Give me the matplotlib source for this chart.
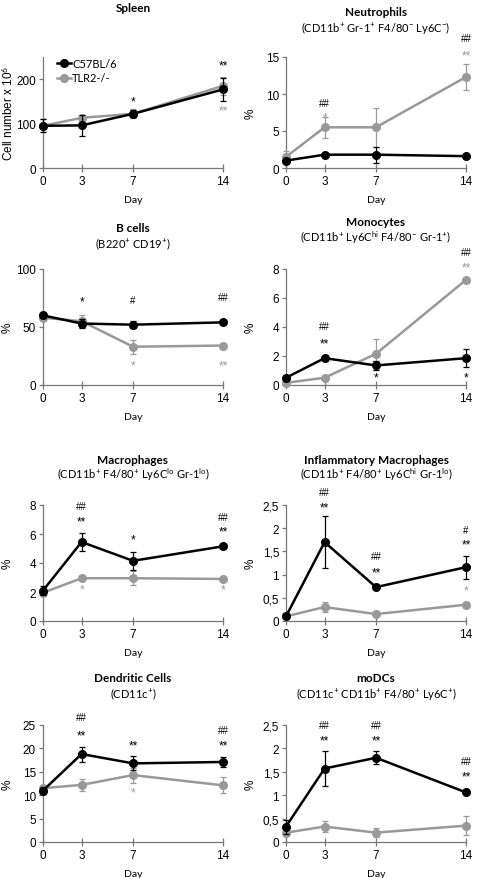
import numpy as np
import matplotlib
matplotlib.use("Agg")
import matplotlib.pyplot as plt
from matplotlib.ticker import FuncFormatter
from matplotlib.lines import Line2D

plt.rcParams['font.family'] = ['Liberation Sans', 'DejaVu Sans']
plt.rcParams['mathtext.fontset'] = 'custom'
plt.rcParams['mathtext.rm'] = 'Lato'
plt.rcParams['mathtext.it'] = 'Lato'
plt.rcParams['mathtext.bf'] = 'Lato:bold'

BLACK = '#000000'
GREY = '#999999'
AXIS = '#777777'

days = [0, 3, 7, 14]

# (mean, error) per day for C57BL/6 (wt) and TLR2-/- (ko)
spleen_wt = [95, 96, 122, 177]
spleen_wt_err = [15, 23, 8, 25]
spleen_ko = [95, 113, 122, 185]
spleen_ko_err = [15, 4, 10, 20]

neut_wt = [1.0, 1.8, 1.8, 1.6]
neut_wt_err = [0.3, 0.15, 1.1, 0.1]
neut_ko = [1.5, 5.5, 5.5, 12.3]
neut_ko_err = [0.8, 1.4, 2.6, 1.7]

bcell_wt = [60, 53, 52, 54]
bcell_wt_err = [2, 4, 3, 1.5]
bcell_ko = [58, 55, 33, 34]
bcell_ko_err = [2, 5, 6, 1.5]

mono_wt = [0.5, 1.85, 1.35, 1.85]
mono_wt_err = [0.05, 0.1, 0.3, 0.6]
mono_ko = [0.15, 0.5, 2.15, 7.25]
mono_ko_err = [0.05, 0.05, 1.05, 0.1]

macro_wt = [2.1, 5.45, 4.15, 5.15]
macro_wt_err = [0.3, 0.65, 0.6, 0.1]
macro_ko = [1.95, 2.95, 2.95, 2.9]
macro_ko_err = [0.1, 0.15, 0.5, 0.1]

infl_wt = [0.1, 1.7, 0.73, 1.16]
infl_wt_err = [0.03, 0.56, 0.03, 0.25]
infl_ko = [0.1, 0.3, 0.15, 0.35]
infl_ko_err = [0.03, 0.1, 0.05, 0.05]

dc_wt = [11.0, 18.8, 16.8, 17.1]
dc_wt_err = [0.8, 1.6, 1.5, 1.1]
dc_ko = [11.5, 12.2, 14.3, 12.1]
dc_ko_err = [0.5, 1.3, 1.6, 1.7]

modc_wt = [0.33, 1.57, 1.8, 1.06]
modc_wt_err = [0.15, 0.38, 0.14, 0.02]
modc_ko = [0.2, 0.33, 0.2, 0.35]
modc_ko_err = [0.08, 0.12, 0.1, 0.2]

# significance marks: (day, y value, text, which series colour)
spleen_marks = [(7, 150, '*', 'wt'), (14, 232, '**', 'wt'), (14, 130, '**', 'ko')]
neut_marks = [(3, 8.8, '##', 'wt'), (3, 6.9, '*', 'ko'), (14, 17.5, '##', 'wt'), (14, 15.2, '**', 'ko')]
bcell_marks = [(3, 72, '*', 'wt'), (7, 73, '#', 'wt'), (14, 76, '##', 'wt'),
               (7, 17, '*', 'ko'), (14, 17, '**', 'ko')]
mono_marks = [(3, 4.1, '##', 'wt'), (3, 2.9, '**', 'wt'), (7, 0.5, '*', 'wt'), (14, 0.5, '*', 'wt'),
              (14, 9.2, '##', 'wt'), (14, 8.1, '**', 'ko')]
macro_marks = [(3, 7.9, '##', 'wt'), (3, 6.9, '**', 'wt'), (7, 5.6, '*', 'wt'),
               (14, 7.2, '##', 'wt'), (14, 6.2, '**', 'wt'), (3, 2.2, '*', 'ko'), (14, 2.2, '*', 'ko')]
infl_marks = [(3, 2.78, '##', 'wt'), (3, 2.45, '**', 'wt'), (7, 1.4, '##', 'wt'), (7, 1.05, '**', 'wt'),
              (14, 1.97, '#', 'wt'), (14, 1.65, '**', 'wt'), (14, 0.66, '*', 'ko')]
dc_marks = [(3, 26.7, '##', 'wt'), (3, 22.8, '**', 'wt'), (7, 20.7, '**', 'wt'),
            (14, 24.0, '##', 'wt'), (14, 20.7, '**', 'wt'), (7, 10.6, '*', 'ko')]
modc_marks = [(3, 2.5, '##', 'wt'), (3, 2.18, '**', 'wt'), (7, 2.5, '##', 'wt'), (7, 2.18, '**', 'wt'),
              (14, 1.73, '##', 'wt'), (14, 1.41, '**', 'wt')]

titles = ['Spleen', 'Neutrophils', 'B cells', 'Monocytes', 'Macrophages',
          'Inflammatory Macrophages', 'Dendritic Cells', 'moDCs']
subtitles = [None,
             r'(CD11b$^{+}$ Gr-1$^{+}$ F4/80$^{-}$ Ly6C$^{-}$)',
             r'(B220$^{+}$ CD19$^{+}$)',
             r'(CD11b$^{+}$ Ly6C$^{hi}$ F4/80$^{-}$ Gr-1$^{+}$)',
             r'(CD11b$^{+}$ F4/80$^{+}$ Ly6C$^{lo}$ Gr-1$^{lo}$)',
             r'(CD11b$^{+}$ F4/80$^{+}$ Ly6C$^{hi}$ Gr-1$^{lo}$)',
             r'(CD11c$^{+}$)',
             r'(CD11c$^{+}$ CD11b$^{+}$ F4/80$^{+}$ Ly6C$^{+}$)']

panels = [
    (spleen_wt, spleen_wt_err, spleen_ko, spleen_ko_err, spleen_marks, 250, [0, 100, 200]),
    (neut_wt, neut_wt_err, neut_ko, neut_ko_err, neut_marks, 15, [0, 5, 10, 15]),
    (bcell_wt, bcell_wt_err, bcell_ko, bcell_ko_err, bcell_marks, 100, [0, 50, 100]),
    (mono_wt, mono_wt_err, mono_ko, mono_ko_err, mono_marks, 8, [0, 2, 4, 6, 8]),
    (macro_wt, macro_wt_err, macro_ko, macro_ko_err, macro_marks, 8, [0, 2, 4, 6, 8]),
    (infl_wt, infl_wt_err, infl_ko, infl_ko_err, infl_marks, 2.5, [0, 0.5, 1, 1.5, 2, 2.5]),
    (dc_wt, dc_wt_err, dc_ko, dc_ko_err, dc_marks, 25, [0, 5, 10, 15, 20, 25]),
    (modc_wt, modc_wt_err, modc_ko, modc_ko_err, modc_marks, 2.5, [0, 0.5, 1, 1.5, 2, 2.5]),
]

W, H = 478, 879
fig = plt.figure(figsize=(W / 100, H / 100), dpi=100)

# pixel boxes: (top, bottom) per row, (left, right) per column
rows = [(58, 169), (270, 386), (506, 622), (726, 843)]
cols = [(43, 223), (286, 466)]
title_y = [(8, None), (13, 28), (229, 244), (223, 238), (461, 475), (461, 475), (678, 694), (678, 694)]


def comma_fmt(v, pos):
    if float(v).is_integer():
        return str(int(v))
    return ('%g' % v).replace('.', ',')


for i, (wt, wt_err, ko, ko_err, marks, ymax, yticks) in enumerate(panels):
    r, c = divmod(i, 2)
    top, bot = rows[r]
    left, right = cols[c]
    ax = fig.add_axes([left / W, 1 - bot / H, (right - left) / W, (bot - top) / H])

    ax.errorbar(days, ko, yerr=ko_err, color=GREY, lw=1.8, marker='o', ms=5.5,
                capsize=2, elinewidth=0.9, capthick=0.9, clip_on=False, zorder=3)
    ax.errorbar(days, wt, yerr=wt_err, color=BLACK, lw=1.8, marker='o', ms=5.5,
                capsize=2, elinewidth=0.9, capthick=0.9, clip_on=False, zorder=4)

    for d, y, s, who in marks:
        ax.text(d, y, s, ha='center', va='center', fontsize=8.5 if '*' in s else 7,
                color=BLACK if who == 'wt' else GREY, clip_on=False)

    ax.set_xlim(0, 14)
    ax.set_ylim(0, ymax)
    ax.set_xticks(days)
    ax.set_yticks(yticks)
    ax.yaxis.set_major_formatter(FuncFormatter(comma_fmt))
    for side in ['top', 'right']:
        ax.spines[side].set_visible(False)
    for side in ['left', 'bottom']:
        ax.spines[side].set_color(AXIS)
        ax.spines[side].set_linewidth(0.9)
    ax.tick_params(axis='x', direction='inout', length=6, width=0.9, color=AXIS,
                   labelsize=8.5, pad=2)
    ax.tick_params(axis='y', direction='out', length=3, width=0.9, color=AXIS,
                   labelsize=8.5, pad=2)
    ax.set_xlabel('Day', fontsize=7.5, family='Lato', labelpad=6)
    if i == 0:
        ax.set_ylabel(r'Cell number x 10$^{6}$', fontsize=8.5)
        ax.yaxis.set_label_coords(-0.15, 0.5)
        handles = [Line2D([], [], color=BLACK, lw=1.8, marker='o', ms=5.5),
                   Line2D([], [], color=GREY, lw=1.8, marker='o', ms=5.5)]
        ax.legend(handles, ['C57BL/6', 'TLR2-/-'], loc='upper left',
                  bbox_to_anchor=(0.02, 1.08), frameon=False, handlelength=1.3,
                  handletextpad=0.1, labelspacing=0.3, prop={'family': 'Lato', 'size': 8})
    else:
        ax.set_ylabel('%', fontsize=8.5)
        ax.yaxis.set_label_coords(-0.165, 0.5)

    cx = (left + right) / 2 / W
    ty, sy = title_y[i]
    fig.text(cx, 1 - ty / H, titles[i], ha='center', va='center', fontsize=8.5,
             family='Lato', fontweight='bold')
    if subtitles[i]:
        fig.text(cx, 1 - sy / H, subtitles[i], ha='center', va='center', fontsize=8,
                 family='Lato')

fig.savefig('out.png', dpi=100)
